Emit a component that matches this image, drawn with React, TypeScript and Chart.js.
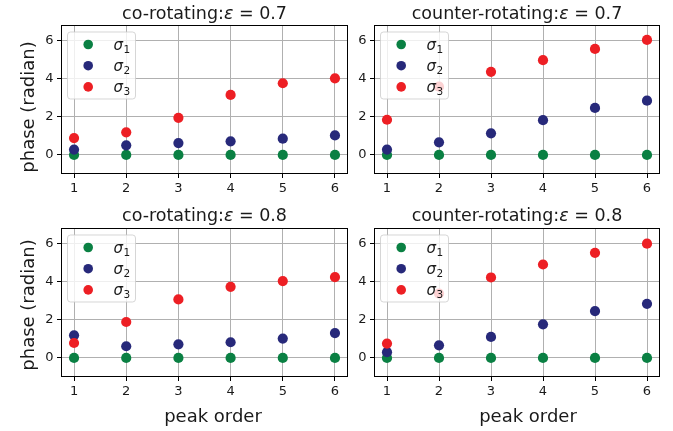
import React, { useEffect, useRef } from "react";
import { Chart, registerables } from "chart.js";

Chart.register(...registerables);

// ---------- data ----------
const peakOrder = [1, 2, 3, 4, 5, 6];
const xTicks = [1, 2, 3, 4, 5, 6];
const yTicks = [0, 2, 4, 6];
const seriesSubscripts = ["1", "2", "3"];
const seriesColors = ["#0a8043", "#27297a", "#ed1f24"];

const coRot07Sigma1 = [0, 0, 0, 0, 0, 0];
const coRot07Sigma2 = [0.28, 0.5, 0.62, 0.71, 0.85, 1.02];
const coRot07Sigma3 = [0.88, 1.18, 1.94, 3.14, 3.75, 4.01];

const counter07Sigma1 = [0, 0, 0, 0, 0, 0];
const counter07Sigma2 = [0.28, 0.66, 1.13, 1.82, 2.46, 2.84];
const counter07Sigma3 = [1.84, 3.57, 4.35, 4.96, 5.55, 6.02];

const coRot08Sigma1 = [0, 0, 0, 0, 0, 0];
const coRot08Sigma2 = [1.18, 0.61, 0.71, 0.82, 1.01, 1.3];
const coRot08Sigma3 = [0.78, 1.88, 3.06, 3.72, 4.02, 4.23];

const counter08Sigma1 = [0, 0, 0, 0, 0, 0];
const counter08Sigma2 = [0.3, 0.66, 1.1, 1.76, 2.45, 2.83];
const counter08Sigma3 = [0.75, 3.37, 4.21, 4.89, 5.5, 5.98];

const FONT = '"DejaVu Sans", sans-serif';
const TEXT = "#1a1a1a";

type Panel = {
  kind: string;
  eps: string;
  series: number[][];
  left: number;
  top: number;
  width: number;
  height: number;
  padL: number;
  padT: number;
  padR: number;
  padB: number;
  titleY: number;
  yLabel?: { x: number; y: number };
  xLabel?: { x: number; y: number };
};

const panels: Panel[] = [
  {
    kind: "co-rotating:", eps: "0.7",
    series: [coRot07Sigma1, coRot07Sigma2, coRot07Sigma3],
    left: 0, top: 0, width: 356, height: 200,
    padL: 61, padT: 25, padR: 8, padB: 26, titleY: 18.5,
    yLabel: { x: 29, y: 107 },
  },
  {
    kind: "counter-rotating:", eps: "0.7",
    series: [counter07Sigma1, counter07Sigma2, counter07Sigma3],
    left: 356, top: 0, width: 317, height: 200,
    padL: 18, padT: 25, padR: 13, padB: 26, titleY: 18.5,
  },
  {
    kind: "co-rotating:", eps: "0.8",
    series: [coRot08Sigma1, coRot08Sigma2, coRot08Sigma3],
    left: 0, top: 200, width: 356, height: 231,
    padL: 61, padT: 28, padR: 8, padB: 54, titleY: 21.3,
    yLabel: { x: 29, y: 105 },
    xLabel: { x: 213, y: 221.5 },
  },
  {
    kind: "counter-rotating:", eps: "0.8",
    series: [counter08Sigma1, counter08Sigma2, counter08Sigma3],
    left: 356, top: 200, width: 317, height: 231,
    padL: 18, padT: 28, padR: 13, padB: 54, titleY: 21.3,
    xLabel: { x: 172, y: 221.5 },
  },
];

function makeDecor(panel: Panel) {
  return {
    id: "decor",
    beforeDatasetsDraw(chart: any) {
      const { ctx, chartArea: a } = chart;
      ctx.save();
      ctx.strokeStyle = "#000";
      ctx.lineWidth = 1;
      ctx.strokeRect(a.left + 0.5, a.top + 0.5, a.right - a.left - 1, a.bottom - a.top - 1);
      ctx.restore();
    },
    afterDatasetsDraw(chart: any) {
      const { ctx, chartArea: a } = chart;
      ctx.save();
      // legend box
      const bx = a.left + 6.5, by = a.top + 7, bw = 68, bh = 67, r = 3;
      ctx.beginPath();
      ctx.moveTo(bx + r, by);
      ctx.lineTo(bx + bw - r, by);
      ctx.arcTo(bx + bw, by, bx + bw, by + r, r);
      ctx.lineTo(bx + bw, by + bh - r);
      ctx.arcTo(bx + bw, by + bh, bx + bw - r, by + bh, r);
      ctx.lineTo(bx + r, by + bh);
      ctx.arcTo(bx, by + bh, bx, by + bh - r, r);
      ctx.lineTo(bx, by + r);
      ctx.arcTo(bx, by, bx + r, by, r);
      ctx.closePath();
      ctx.fillStyle = "rgba(255,255,255,0.8)";
      ctx.fill();
      ctx.strokeStyle = "rgba(204,204,204,0.8)";
      ctx.lineWidth = 1;
      ctx.stroke();
      for (let i = 0; i < 3; i++) {
        const cy = a.top + 19.5 + i * 21.2;
        ctx.beginPath();
        ctx.arc(a.left + 27.2, cy, 4.8, 0, Math.PI * 2);
        ctx.fillStyle = seriesColors[i];
        ctx.fill();
        ctx.fillStyle = TEXT;
        ctx.textBaseline = "alphabetic";
        ctx.textAlign = "left";
        ctx.font = `italic 15px ${FONT}`;
        const sx = a.left + 52.5;
        const base = cy + 5;
        ctx.fillText("σ", sx, base);
        const w = ctx.measureText("σ").width;
        ctx.font = `10.5px ${FONT}`;
        ctx.fillText(seriesSubscripts[i], sx + w + 0.5, base + 3);
      }
      ctx.restore();
    },
    afterDraw(chart: any) {
      const { ctx, chartArea: a } = chart;
      ctx.save();
      ctx.fillStyle = TEXT;
      ctx.textBaseline = "alphabetic";
      ctx.textAlign = "left";
      // title with italic epsilon
      const fs = 17.5;
      const p1 = panel.kind;
      const p2 = "ε";
      const p3 = " = " + panel.eps;
      ctx.font = `${fs}px ${FONT}`;
      const w1 = ctx.measureText(p1).width;
      const w3 = ctx.measureText(p3).width;
      ctx.font = `italic ${fs}px ${FONT}`;
      const w2 = ctx.measureText(p2).width;
      let x = (a.left + a.right) / 2 - (w1 + w2 + w3) / 2;
      ctx.font = `${fs}px ${FONT}`;
      ctx.fillText(p1, x, panel.titleY);
      x += w1;
      ctx.font = `italic ${fs}px ${FONT}`;
      ctx.fillText(p2, x, panel.titleY);
      x += w2;
      ctx.font = `${fs}px ${FONT}`;
      ctx.fillText(p3, x, panel.titleY);
      // axis labels
      ctx.font = `18px ${FONT}`;
      if (panel.yLabel) {
        ctx.save();
        ctx.translate(panel.yLabel.x, panel.yLabel.y);
        ctx.rotate(-Math.PI / 2);
        ctx.textAlign = "center";
        ctx.textBaseline = "middle";
        ctx.fillText("phase (radian)", 0, 0);
        ctx.restore();
      }
      if (panel.xLabel) {
        ctx.textAlign = "center";
        ctx.textBaseline = "alphabetic";
        ctx.fillText("peak order", panel.xLabel.x, panel.xLabel.y);
      }
      ctx.restore();
    },
  };
}

function PanelChart({ panel }: { panel: Panel }) {
  const ref = useRef<HTMLCanvasElement | null>(null);
  useEffect(() => {
    if (!ref.current) return;
    const datasets = panel.series.map((vals, i) => ({
      label: "σ" + seriesSubscripts[i],
      data: peakOrder.map((x, j) => ({ x, y: vals[j] })),
      backgroundColor: seriesColors[i],
      borderColor: seriesColors[i],
      borderWidth: 0,
      pointRadius: 5.1,
      pointHoverRadius: 5.1,
      order: 2 - i,
    }));
    const chart = new Chart(ref.current, {
      type: "scatter",
      data: { datasets },
      options: {
        animation: false,
        responsive: false,
        maintainAspectRatio: false,
        devicePixelRatio: 1,
        events: [],
        layout: { padding: { left: 0, top: panel.padT, right: panel.padR, bottom: 0 } },
        plugins: { legend: { display: false }, tooltip: { enabled: false }, title: { display: false } },
        scales: {
          x: {
            type: "linear",
            min: 0.75,
            max: 6.25,
            afterBuildTicks: (s: any) => {
              s.ticks = xTicks.map((v) => ({ value: v }));
            },
            afterFit: (s: any) => {
              s.height = panel.padB;
            },
            border: { display: false },
            grid: { color: "#b0b0b0", lineWidth: 1, drawTicks: true, tickLength: 4, tickColor: "#000", tickWidth: 1 },
            ticks: { color: TEXT, font: { family: FONT, size: 13 }, padding: 3, maxRotation: 0, autoSkip: false },
          },
          y: {
            type: "linear",
            min: -1,
            max: 6.8,
            afterBuildTicks: (s: any) => {
              s.ticks = yTicks.map((v) => ({ value: v }));
            },
            afterFit: (s: any) => {
              s.width = panel.padL;
            },
            border: { display: false },
            grid: { color: "#b0b0b0", lineWidth: 1, drawTicks: true, tickLength: 4, tickColor: "#000", tickWidth: 1 },
            ticks: { color: TEXT, font: { family: FONT, size: 13 }, padding: 3.5, autoSkip: false },
          },
        },
      },
      plugins: [makeDecor(panel)],
    } as any);
    return () => chart.destroy();
  }, [panel]);
  return (
    <canvas
      ref={ref}
      width={panel.width}
      height={panel.height}
      style={{ position: "absolute", left: panel.left, top: panel.top, width: panel.width, height: panel.height }}
    />
  );
}

export default function App() {
  return (
    <div style={{ position: "absolute", left: 0, top: 0, width: 673, height: 431, background: "#fff", overflow: "hidden" }}>
      {panels.map((p, i) => (
        <PanelChart key={i} panel={p} />
      ))}
    </div>
  );
}
